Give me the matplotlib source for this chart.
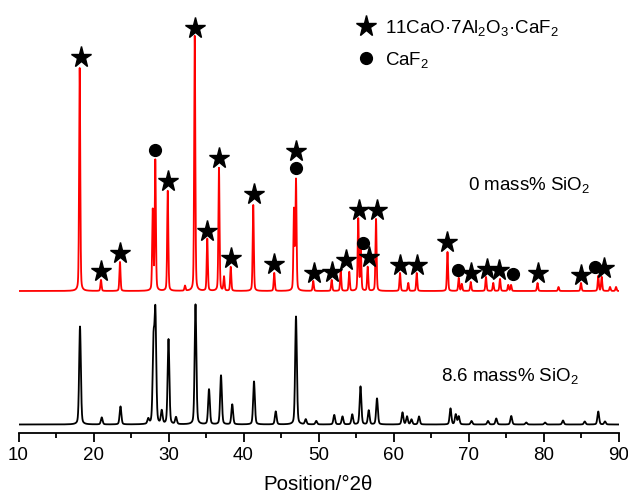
import numpy as np
import matplotlib.pyplot as plt
from matplotlib.lines import Line2D

plt.rcParams['font.family'] = ['Liberation Sans', 'DejaVu Sans']
plt.rcParams['mathtext.default'] = 'regular'

# Peak lists: 2theta (deg), height above baseline (a.u.)
pos_0 = [18.16, 21.0, 23.53, 27.9, 28.24, 29.9, 32.2, 33.5, 35.17, 36.73, 37.4, 38.3,
         41.3, 44.1, 46.73, 47.0, 49.3, 51.76, 52.96, 54.1, 55.3, 55.64, 56.56, 57.67,
         60.87, 61.97, 63.1, 67.2, 68.7, 69.1, 70.3, 72.33, 73.3, 74.2, 75.3, 75.67,
         79.2, 82.0, 85.0, 87.3, 87.76, 88.87, 89.67]
int_0 = [223, 11, 29, 80, 130, 100, 5, 255, 52, 123, 14, 24,
         86, 18, 80, 110, 10, 11, 21, 19, 72, 42, 24, 72,
         18, 8, 18, 39, 13, 7, 9, 14, 8, 12, 6, 6,
         8, 4, 8, 15, 14, 4, 4]

pos_86 = [18.2, 21.1, 23.6, 27.3, 28.0, 28.25, 29.1, 30.0, 31.0, 33.6, 35.4, 37.0,
          38.5, 41.4, 44.3, 47.0, 48.3, 49.7, 52.1, 53.2, 54.5, 55.6, 56.7, 57.8,
          61.2, 61.8, 62.4, 63.4, 67.6, 68.3, 68.7, 70.4, 72.6, 73.7, 75.7, 77.7,
          80.2, 82.6, 85.5, 87.3, 88.2]
int_86 = [98, 7, 18, 5, 78, 108, 13, 85, 7, 120, 35, 49,
          20, 43, 13, 108, 5, 3.5, 9.5, 8, 10, 38, 14, 26,
          12, 8, 5, 8, 16, 10, 8, 3.5, 3.5, 6, 8.5, 2,
          2, 4, 3, 13, 3]

offset_0 = 142
offset_86 = 8.5

# phase markers (2theta, a.u.)
star_x = [18.29, 21.0, 23.53, 29.97, 33.53, 35.17, 36.77, 38.33, 41.4, 44.1, 47.0,
          49.37, 51.76, 53.63, 55.44, 56.73, 57.76, 60.87, 63.09, 67.17, 70.29,
          72.43, 74.1, 79.23, 84.96, 88.07]
star_y = [375.7, 162.3, 179.7, 252.3, 405.3, 202.3, 275.3, 175.3, 238.7, 169, 282,
          159.7, 161.3, 173, 223, 176.3, 223, 168, 168, 190.7, 160.3,
          163.7, 163, 160.3, 158, 164.7]
circ_x = [28.24, 47.0, 55.89, 68.64, 75.97, 86.87]
circ_y = [283, 264.7, 189.7, 163, 158.7, 165.7]


def pattern(x, pos, hts, fwhm, eta=0.3):
    y = np.zeros_like(x)
    for p, h in zip(pos, hts):
        g = np.exp(-4 * np.log(2) * ((x - p) / fwhm) ** 2)
        l = 1 / (1 + 4 * ((x - p) / fwhm) ** 2)
        y += h * ((1 - eta) * g + eta * l)
    return y


tt = np.arange(10, 90.01, 0.01)
y0 = pattern(tt, pos_0, int_0, 0.18) + offset_0
y86 = pattern(tt, pos_86, int_86, 0.27) + offset_86

fig = plt.figure(figsize=(6.28, 4.95), dpi=100)
ax = fig.add_axes([18.5 / 628, 62 / 495, 600 / 628, 433 / 495])

ax.plot(tt, y0, color='#ff0000', lw=1.3)
ax.plot(tt, y86, color='black', lw=1.3)

ax.plot(star_x, star_y, ls='none', marker='*', ms=15.5, color='black')
ax.plot(circ_x, circ_y, ls='none', marker='o', ms=8.5, color='black')

ax.text(69.93, 243, '0 mass% SiO$_2$', fontsize=13.5, va='baseline')
ax.text(66.3, 52.3, '8.6 mass% SiO$_2$', fontsize=13.5, va='baseline')

handles = [Line2D([], [], ls='none', marker='*', ms=15.5, color='black'),
           Line2D([], [], ls='none', marker='o', ms=8.5, color='black')]
ax.legend(handles, ['11CaO·7Al$_2$O$_3$·CaF$_2$', 'CaF$_2$'], loc='upper left',
          bbox_to_anchor=(0.557, 0.968), frameon=False, fontsize=13.5, borderpad=0.2,
          handlelength=1.0, handletextpad=0.5, labelspacing=0.65, borderaxespad=0)

ax.set_xlim(10, 90)
ax.set_ylim(0, 433)
ax.set_xticks(np.arange(10, 91, 10))
ax.set_xticks(np.arange(15, 90, 10), minor=True)
ax.tick_params(axis='x', which='major', direction='out', length=6.5, width=1.3, labelsize=13.5, pad=3.5)
ax.tick_params(axis='x', which='minor', direction='out', length=3.5, width=1.3)
ax.set_yticks([])
for s in ['left', 'right', 'top']:
    ax.spines[s].set_visible(False)
ax.spines['bottom'].set_linewidth(1.3)
ax.set_xlabel('Position/°2θ', fontsize=14.8, labelpad=8)

fig.savefig('out.png', dpi=100)
